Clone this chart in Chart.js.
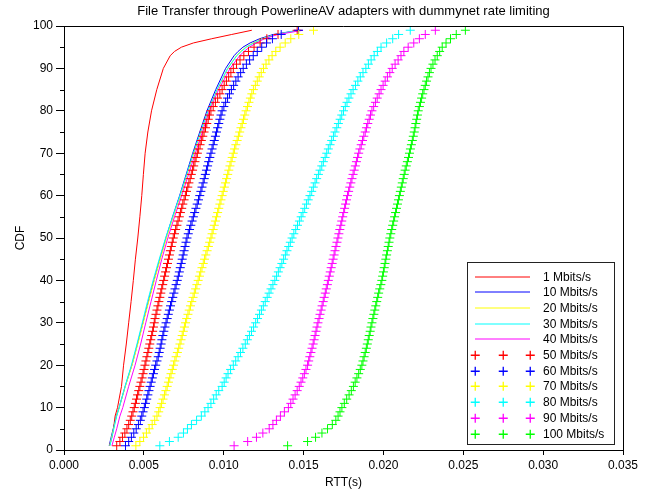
<!DOCTYPE html>
<html>
<head>
<meta charset="utf-8">
<title>File Transfer through PowerlineAV adapters with dummynet rate limiting</title>
<script src="https://cdn.jsdelivr.net/npm/chart.js@4.4.1/dist/chart.umd.min.js"></script>
<style>
    html, body { margin: 0; padding: 0; background: #fff; }
    #wrap { width: 649px; height: 490px; }
</style>
</head>
<body>
<div id="wrap"><canvas id="cdfChart" width="649" height="490"></canvas></div>
<script>
// series names, in legend order
const seriesLabels = ['1 Mbits/s', '10 Mbits/s', '20 Mbits/s', '30 Mbits/s', '40 Mbits/s',
    '50 Mbits/s', '60 Mbits/s', '70 Mbits/s', '80 Mbits/s', '90 Mbits/s', '100 Mbits/s'];

// CDF levels (%) for the solid line series
const lineLevels = [1, 3, 5, 8, 10, 15, 20, 25, 30, 35, 40, 45, 50, 55, 60, 65, 70, 75, 80, 85, 90, 93, 94, 95, 96, 97, 98, 99];

// CDF levels (%) for the "+" marker series
const markerLevels = [1, 2, 3, 4, 5, 6, 7, 8, 9, 10,
    11, 12, 13, 14, 15, 16, 17, 18, 19, 20,
    21, 22, 23, 24, 25, 26, 27, 28, 29, 30,
    31, 32, 33, 34, 35, 36, 37, 38, 39, 40,
    41, 42, 43, 44, 45, 46, 47, 48, 49, 50,
    51, 52, 53, 54, 55, 56, 57, 58, 59, 60,
    61, 62, 63, 64, 65, 66, 67, 68, 69, 70,
    71, 72, 73, 74, 75, 76, 77, 78, 79, 80,
    81, 82, 83, 84, 85, 86, 87, 88, 89, 90,
    91, 92, 93, 94, 95, 96, 97, 98, 99];

// RTT (s) at each line level
const rtt1 = [0.00285, 0.00300, 0.00310, 0.00320, 0.00335, 0.00360, 0.00373, 0.00390, 0.00405, 0.00420, 0.00434, 0.00447, 0.00462,
    0.00475, 0.00487, 0.00497, 0.00508, 0.00525, 0.00548, 0.00581, 0.00622, 0.00665, 0.00692, 0.00735, 0.00810, 0.00925, 0.01050, 0.01176];
const rtt10 = [0.00283, 0.00295, 0.00308, 0.00328, 0.00345, 0.00383, 0.00425, 0.00460, 0.00494, 0.00528, 0.00563, 0.00600, 0.00638,
    0.00680, 0.00724, 0.00765, 0.00806, 0.00850, 0.00895, 0.00950, 0.01012, 0.01065, 0.01090, 0.01120, 0.01165, 0.01225, 0.01310, 0.01470];
const rtt20 = [0.00286, 0.00298, 0.00310, 0.00329, 0.00346, 0.00384, 0.00426, 0.00462, 0.00496, 0.00530, 0.00565, 0.00602, 0.00641,
    0.00684, 0.00729, 0.00771, 0.00813, 0.00858, 0.00904, 0.00960, 0.01025, 0.01080, 0.01106, 0.01138, 0.01185, 0.01240, 0.01325, 0.01480];
const rtt30 = [0.00288, 0.00300, 0.00312, 0.00330, 0.00346, 0.00382, 0.00422, 0.00457, 0.00490, 0.00523, 0.00558, 0.00596, 0.00636,
    0.00680, 0.00726, 0.00768, 0.00810, 0.00855, 0.00902, 0.00958, 0.01025, 0.01082, 0.01110, 0.01142, 0.01190, 0.01245, 0.01330, 0.01470];
const rtt40 = [0.00300, 0.00315, 0.00330, 0.00350, 0.00368, 0.00405, 0.00445, 0.00480, 0.00512, 0.00545, 0.00578, 0.00612, 0.00650,
    0.00692, 0.00737, 0.00780, 0.00822, 0.00866, 0.00910, 0.00968, 0.01040, 0.01100, 0.01128, 0.01160, 0.01205, 0.01255, 0.01340, 0.01497];

// RTT (s) at each marker level
const rtt50 = [0.00330, 0.00350, 0.00366, 0.00381, 0.00394, 0.00405, 0.00415, 0.00424, 0.00432, 0.00440,
    0.00447, 0.00454, 0.00461, 0.00468, 0.00475, 0.00482, 0.00489, 0.00495, 0.00501, 0.00507,
    0.00513, 0.00519, 0.00525, 0.00531, 0.00537, 0.00543, 0.00549, 0.00555, 0.00560, 0.00565,
    0.00570, 0.00576, 0.00582, 0.00588, 0.00594, 0.00600, 0.00606, 0.00612, 0.00618, 0.00624,
    0.00630, 0.00636, 0.00642, 0.00648, 0.00654, 0.00660, 0.00666, 0.00672, 0.00678, 0.00684,
    0.00692, 0.00699, 0.00707, 0.00714, 0.00722, 0.00729, 0.00737, 0.00744, 0.00752, 0.00760,
    0.00767, 0.00775, 0.00782, 0.00790, 0.00797, 0.00805, 0.00812, 0.00820, 0.00827, 0.00835,
    0.00843, 0.00852, 0.00860, 0.00869, 0.00877, 0.00886, 0.00894, 0.00903, 0.00911, 0.00920,
    0.00934, 0.00948, 0.00962, 0.00976, 0.00990, 0.01003, 0.01017, 0.01031, 0.01045, 0.01060,
    0.01080, 0.01102, 0.01126, 0.01155, 0.01190, 0.01228, 0.01270, 0.01340, 0.01460];
const rtt60 = [0.00385, 0.00405, 0.00422, 0.00437, 0.00452, 0.00466, 0.00478, 0.00487, 0.00495, 0.00503,
    0.00510, 0.00518, 0.00525, 0.00532, 0.00539, 0.00546, 0.00553, 0.00560, 0.00567, 0.00574,
    0.00582, 0.00590, 0.00596, 0.00602, 0.00608, 0.00613, 0.00619, 0.00625, 0.00632, 0.00639,
    0.00646, 0.00653, 0.00660, 0.00667, 0.00674, 0.00681, 0.00688, 0.00695, 0.00702, 0.00709,
    0.00716, 0.00722, 0.00728, 0.00734, 0.00740, 0.00746, 0.00752, 0.00758, 0.00764, 0.00770,
    0.00778, 0.00786, 0.00794, 0.00802, 0.00810, 0.00818, 0.00826, 0.00834, 0.00842, 0.00850,
    0.00857, 0.00864, 0.00871, 0.00878, 0.00885, 0.00892, 0.00899, 0.00906, 0.00913, 0.00920,
    0.00927, 0.00934, 0.00941, 0.00948, 0.00955, 0.00962, 0.00969, 0.00976, 0.00983, 0.00990,
    0.01001, 0.01012, 0.01024, 0.01036, 0.01048, 0.01062, 0.01076, 0.01090, 0.01106, 0.01122,
    0.01142, 0.01162, 0.01185, 0.01210, 0.01238, 0.01268, 0.01305, 0.01360, 0.01468];
const rtt70 = [0.00450, 0.00475, 0.00498, 0.00516, 0.00533, 0.00552, 0.00568, 0.00582, 0.00593, 0.00602,
    0.00611, 0.00620, 0.00629, 0.00638, 0.00646, 0.00654, 0.00662, 0.00670, 0.00678, 0.00686,
    0.00694, 0.00702, 0.00710, 0.00718, 0.00726, 0.00733, 0.00740, 0.00747, 0.00754, 0.00761,
    0.00768, 0.00776, 0.00784, 0.00792, 0.00800, 0.00808, 0.00816, 0.00824, 0.00832, 0.00840,
    0.00848, 0.00856, 0.00864, 0.00872, 0.00880, 0.00888, 0.00896, 0.00904, 0.00912, 0.00920,
    0.00927, 0.00934, 0.00941, 0.00948, 0.00955, 0.00962, 0.00969, 0.00976, 0.00983, 0.00990,
    0.00997, 0.01004, 0.01011, 0.01018, 0.01025, 0.01032, 0.01039, 0.01046, 0.01053, 0.01060,
    0.01068, 0.01076, 0.01084, 0.01092, 0.01100, 0.01108, 0.01116, 0.01124, 0.01132, 0.01140,
    0.01149, 0.01158, 0.01167, 0.01176, 0.01186, 0.01198, 0.01210, 0.01222, 0.01235, 0.01249,
    0.01265, 0.01283, 0.01303, 0.01326, 0.01353, 0.01385, 0.01420, 0.01470, 0.01562];
const rtt80 = [0.00600, 0.00660, 0.00715, 0.00748, 0.00773, 0.00798, 0.00830, 0.00860, 0.00882, 0.00902,
    0.00920, 0.00937, 0.00953, 0.00969, 0.00990, 0.01003, 0.01015, 0.01027, 0.01043, 0.01060,
    0.01075, 0.01090, 0.01105, 0.01120, 0.01135, 0.01148, 0.01161, 0.01174, 0.01187, 0.01200,
    0.01212, 0.01224, 0.01236, 0.01248, 0.01260, 0.01272, 0.01284, 0.01296, 0.01308, 0.01320,
    0.01331, 0.01342, 0.01353, 0.01364, 0.01375, 0.01386, 0.01396, 0.01407, 0.01417, 0.01428,
    0.01439, 0.01451, 0.01462, 0.01474, 0.01485, 0.01496, 0.01507, 0.01518, 0.01529, 0.01540,
    0.01551, 0.01561, 0.01572, 0.01582, 0.01593, 0.01603, 0.01614, 0.01624, 0.01635, 0.01645,
    0.01655, 0.01666, 0.01676, 0.01687, 0.01697, 0.01708, 0.01718, 0.01729, 0.01739, 0.01750,
    0.01761, 0.01772, 0.01784, 0.01797, 0.01810, 0.01825, 0.01840, 0.01855, 0.01872, 0.01890,
    0.01906, 0.01923, 0.01942, 0.01962, 0.01985, 0.02020, 0.02058, 0.02095, 0.02168];
const rtt90 = [0.01065, 0.01150, 0.01205, 0.01245, 0.01285, 0.01308, 0.01330, 0.01355, 0.01380, 0.01405,
    0.01420, 0.01434, 0.01447, 0.01460, 0.01473, 0.01484, 0.01495, 0.01505, 0.01515, 0.01525,
    0.01532, 0.01539, 0.01546, 0.01553, 0.01560, 0.01566, 0.01572, 0.01578, 0.01584, 0.01590,
    0.01597, 0.01603, 0.01610, 0.01616, 0.01623, 0.01629, 0.01636, 0.01642, 0.01649, 0.01655,
    0.01661, 0.01667, 0.01673, 0.01679, 0.01685, 0.01691, 0.01697, 0.01703, 0.01709, 0.01715,
    0.01721, 0.01727, 0.01733, 0.01739, 0.01745, 0.01751, 0.01757, 0.01763, 0.01769, 0.01775,
    0.01782, 0.01789, 0.01796, 0.01803, 0.01810, 0.01817, 0.01824, 0.01831, 0.01838, 0.01845,
    0.01853, 0.01861, 0.01869, 0.01877, 0.01886, 0.01894, 0.01902, 0.01911, 0.01919, 0.01928,
    0.01939, 0.01950, 0.01961, 0.01973, 0.01985, 0.01998, 0.02011, 0.02025, 0.02040, 0.02055,
    0.02073, 0.02092, 0.02110, 0.02128, 0.02155, 0.02190, 0.02225, 0.02262, 0.02325];
const rtt100 = [0.01400, 0.01525, 0.01575, 0.01615, 0.01650, 0.01680, 0.01702, 0.01716, 0.01728, 0.01740,
    0.01755, 0.01770, 0.01785, 0.01799, 0.01812, 0.01823, 0.01834, 0.01845, 0.01855, 0.01865,
    0.01872, 0.01879, 0.01886, 0.01893, 0.01899, 0.01905, 0.01911, 0.01917, 0.01922, 0.01928,
    0.01934, 0.01940, 0.01946, 0.01952, 0.01958, 0.01964, 0.01970, 0.01977, 0.01984, 0.01990,
    0.01995, 0.02000, 0.02005, 0.02010, 0.02015, 0.02020, 0.02025, 0.02030, 0.02035, 0.02040,
    0.02046, 0.02052, 0.02058, 0.02064, 0.02070, 0.02076, 0.02082, 0.02088, 0.02094, 0.02100,
    0.02106, 0.02112, 0.02118, 0.02124, 0.02130, 0.02136, 0.02143, 0.02150, 0.02157, 0.02163,
    0.02169, 0.02175, 0.02181, 0.02187, 0.02193, 0.02198, 0.02203, 0.02208, 0.02213, 0.02218,
    0.02225, 0.02232, 0.02239, 0.02246, 0.02254, 0.02262, 0.02270, 0.02279, 0.02288, 0.02298,
    0.02310, 0.02323, 0.02337, 0.02352, 0.02368, 0.02392, 0.02420, 0.02456, 0.02513];

// unlabelled minor ticks on the CDF axis
const minorYTicks = [5, 15, 25, 35, 45, 55, 65, 75, 85, 95];

const seriesColors = ['#ff0000', '#0000ff', '#ffff00', '#00ffff', '#ff00ff',
    '#ff0000', '#0000ff', '#ffff00', '#00ffff', '#ff00ff', '#00ff00'];

const FONT = "'Liberation Sans', Arial, Helvetica, sans-serif";

function toPoints(rtt, levels) {
    return rtt.map((v, i) => ({ x: v, y: levels[i] }));
}

const lineRtts = [rtt1, rtt10, rtt20, rtt30, rtt40];
const markerRtts = [rtt50, rtt60, rtt70, rtt80, rtt90, rtt100];

const datasets = [];
lineRtts.forEach((rtt, i) => {
    datasets.push({
        label: seriesLabels[i],
        data: toPoints(rtt, lineLevels),
        showLine: true,
        borderColor: seriesColors[i],
        borderWidth: 1,
        pointRadius: 0,
        tension: 0,
        order: 20 - i
    });
});
markerRtts.forEach((rtt, j) => {
    const i = j + lineRtts.length;
    datasets.push({
        label: seriesLabels[i],
        data: toPoints(rtt, markerLevels),
        showLine: false,
        borderColor: seriesColors[i],
        backgroundColor: seriesColors[i],
        pointStyle: 'cross',
        pointRadius: 4.5,
        pointBorderWidth: 1,
        pointHoverRadius: 4.5,
        order: 20 - i
    });
});

// top/right frame, minor y ticks and the legend box in the lower right corner
const framePlugin = {
    id: 'framePlugin',
    afterDraw(chart) {
        const ctx = chart.ctx;
        const a = chart.chartArea;
        const yScale = chart.scales.y;
        ctx.save();
        ctx.strokeStyle = '#000';
        ctx.lineWidth = 1;
        ctx.beginPath();
        ctx.moveTo(a.left, Math.round(a.top) + 0.5);
        ctx.lineTo(Math.round(a.right) + 0.5, Math.round(a.top) + 0.5);
        ctx.lineTo(Math.round(a.right) + 0.5, a.bottom);
        ctx.stroke();

        ctx.beginPath();
        minorYTicks.forEach(v => {
            const y = Math.round(yScale.getPixelForValue(v)) + 0.5;
            ctx.moveTo(a.left - 4, y);
            ctx.lineTo(a.left, y);
        });
        ctx.stroke();

        // legend
        const rowStep = 15.7;
        const boxW = 147;
        const boxH = Math.round(seriesLabels.length * rowStep + 9.5);
        const boxRight = Math.round(a.right) - 9;
        const boxBottom = Math.round(a.bottom) - 6;
        const left = boxRight - boxW;
        const top = boxBottom - boxH;
        ctx.fillStyle = '#fff';
        ctx.fillRect(left, top, boxW, boxH);
        ctx.strokeStyle = '#222';
        ctx.strokeRect(left + 0.5, top + 0.5, boxW, boxH);

        ctx.font = '12px ' + FONT;
        ctx.textBaseline = 'middle';
        ctx.textAlign = 'left';
        chart.data.datasets.forEach((ds, i) => {
            const yRow = Math.round(top + 14.5 + i * rowStep);
            ctx.strokeStyle = ds.borderColor;
            ctx.lineWidth = 1;
            ctx.beginPath();
            if (ds.showLine) {
                ctx.moveTo(left + 8, yRow);
                ctx.lineTo(left + 63, yRow);
            } else {
                ctx.lineWidth = 1.3;
                [8, 35.5, 63].forEach(dx => {
                    const x = Math.round(left + dx) + 0.25;
                    ctx.moveTo(x - 4.5, yRow + 0.25);
                    ctx.lineTo(x + 4.5, yRow + 0.25);
                    ctx.moveTo(x, yRow - 4.25);
                    ctx.lineTo(x, yRow + 4.75);
                });
            }
            ctx.stroke();
            ctx.fillStyle = '#000';
            ctx.fillText(ds.label, left + 76, yRow + 0.5);
        });
        ctx.restore();
    }
};

Chart.defaults.font.family = FONT;
Chart.defaults.font.size = 12;
Chart.defaults.color = '#000';

const cdfChart = new Chart(document.getElementById('cdfChart').getContext('2d'), {
    type: 'scatter',
    data: { datasets: datasets },
    options: {
        responsive: false,
        animation: false,
        devicePixelRatio: 1,
        layout: { padding: { left: 0, right: 26, top: 0, bottom: 0 } },
        plugins: {
            legend: { display: false },
            tooltip: { enabled: false },
            title: {
                display: true,
                fullSize: false,
                text: 'File Transfer through PowerlineAV adapters with dummynet rate limiting',
                color: '#000',
                font: { size: 13, weight: 'normal', lineHeight: 1.2 },
                padding: { top: 4, bottom: 6.4 }
            }
        },
        scales: {
            x: {
                type: 'linear',
                min: 0,
                max: 0.035,
                ticks: {
                    stepSize: 0.005,
                    color: '#000',
                    padding: 3,
                    maxRotation: 0,
                    autoSkip: false,
                    callback: v => Number(v).toFixed(3)
                },
                grid: { drawOnChartArea: false, tickLength: 5, color: '#000' },
                border: { color: '#000', width: 1 },
                title: { display: true, text: 'RTT(s)', color: '#000', padding: { top: 0, bottom: 0 } },
                afterFit(scale) { scale.height = 40; }
            },
            y: {
                type: 'linear',
                min: 0,
                max: 100,
                ticks: { stepSize: 10, color: '#000', padding: 3 },
                grid: { drawOnChartArea: false, tickLength: 8, color: '#000' },
                border: { color: '#000', width: 1 },
                title: { display: true, text: 'CDF', color: '#000', padding: { top: 13, bottom: 0 } },
                afterFit(scale) { scale.width = 64; }
            }
        }
    },
    plugins: [framePlugin]
});
</script>
</body>
</html>
